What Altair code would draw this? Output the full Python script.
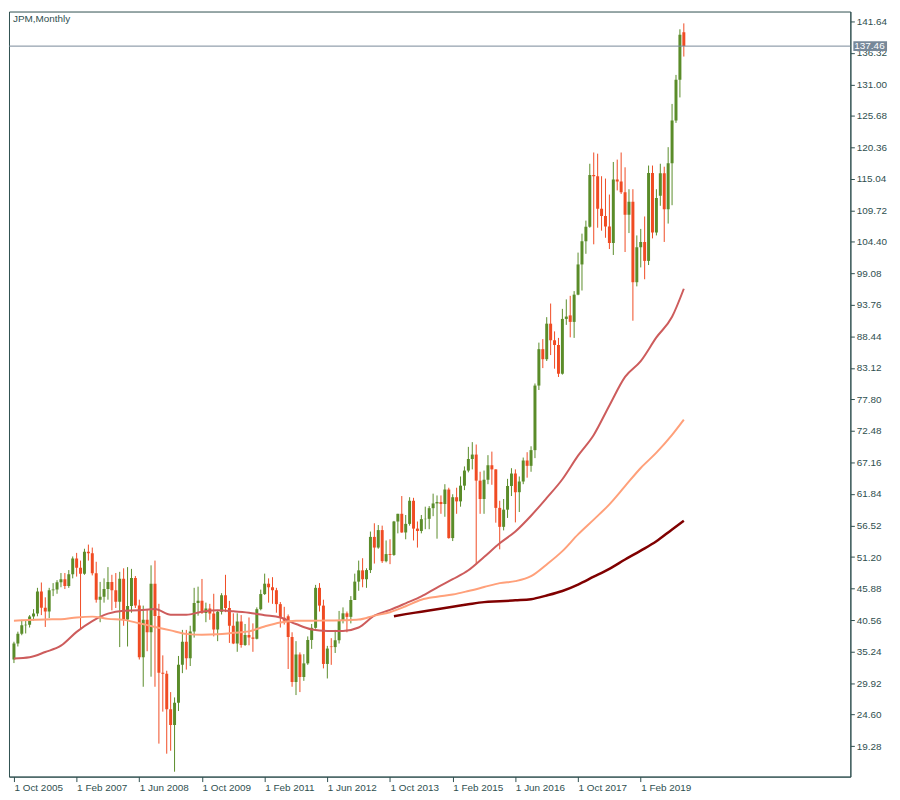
import altair as alt
import pandas as pd

# ---- JPM monthly candles, Oct 2005 .. Jan 2020 (one value per month) ----
opens = [
    33.9, 36.6, 38.25,
    39.7, 39.75, 41.15, 41.65, 45.4, 42.65, 42.0, 45.6, 45.7, 46.95, 47.45, 46.3,
    48.3, 50.95, 49.4, 48.4, 52.1, 51.85, 48.45, 44.0, 44.5, 45.8, 47.0, 45.6,
    43.65, 47.55, 40.65, 42.95, 47.65, 43.0, 34.3, 40.6, 38.5, 46.7, 41.25, 31.65,
    31.5, 25.5, 22.85, 26.6, 33.0, 36.9, 34.1, 38.65, 43.45, 43.8, 41.75, 42.5,
    41.65, 38.95, 41.95, 44.75, 42.6, 39.6, 36.6, 40.3, 36.35, 38.05, 37.6, 37.4,
    42.4, 44.95, 46.7, 46.1, 45.6, 43.25, 40.95, 41.2, 37.7, 30.1, 34.75, 30.95,
    33.25, 37.2, 39.25, 46.0, 43.0, 33.15, 36.1, 36.0, 37.15, 40.5, 41.7, 41.1,
    43.95, 47.05, 48.95, 47.45, 49.0, 54.6, 52.8, 55.75, 50.5, 51.7, 51.55, 57.2,
    58.5, 55.35, 56.8, 60.7, 56.0, 55.6, 57.6, 57.65, 59.45, 60.25, 60.5, 60.15,
    62.6, 54.4, 61.3, 60.6, 63.25, 65.8, 67.75, 68.5, 64.1, 61.0, 64.25, 66.7,
    66.0, 59.5, 56.3, 59.2, 63.2, 65.3, 62.15, 63.95, 67.5, 66.6, 69.25, 80.15,
    86.3, 84.6, 90.6, 87.8, 87.0, 82.15, 91.4, 92.0, 90.9, 95.5, 100.6, 104.5,
    106.95, 115.7, 115.5, 110.0, 108.8, 107.0, 104.2, 114.95, 114.6, 112.8, 109.0, 111.2,
    97.6, 103.5, 104.4, 101.2, 116.05, 106.0, 112.2, 116.0, 109.9, 117.7, 124.9, 131.8,
    139.8,
]
highs = [
    36.9, 38.6, 40.6,
    40.4, 41.4, 42.4, 46.0, 46.9, 44.4, 46.0, 46.8, 47.3, 48.5, 48.5, 49.0,
    51.3, 51.9, 50.6, 52.6, 53.3, 52.8, 50.4, 47.0, 47.6, 49.5, 48.2, 48.5,
    48.7, 49.3, 49.5, 49.2, 48.0, 44.0, 43.0, 42.3, 49.8, 50.6, 43.3, 34.6,
    32.0, 28.4, 27.5, 34.5, 38.9, 38.9, 39.6, 46.0, 46.2, 47.5, 43.5, 43.3,
    45.0, 42.2, 45.1, 48.2, 43.8, 41.7, 41.7, 41.4, 39.9, 41.0, 40.0, 42.7,
    45.7, 48.4, 47.6, 47.8, 46.0, 43.6, 42.8, 41.5, 38.5, 37.0, 35.1, 34.8,
    37.8, 39.9, 46.5, 46.8, 44.0, 36.2, 37.5, 38.9, 42.1, 42.7, 42.0, 44.6,
    48.4, 50.6, 51.0, 49.3, 55.5, 56.9, 56.6, 56.5, 54.0, 54.2, 57.3, 58.5,
    61.5, 58.3, 61.3, 61.2, 57.2, 58.3, 59.7, 59.8, 61.9, 61.6, 61.6, 63.5,
    62.9, 61.8, 62.9, 64.8, 66.5, 69.8, 70.6, 70.2, 65.6, 65.8, 68.4, 69.0,
    66.0, 60.7, 61.0, 64.4, 66.2, 66.0, 64.8, 68.0, 68.9, 69.9, 80.5, 87.4,
    88.0, 91.7, 94.0, 89.3, 88.2, 93.1, 94.7, 95.3, 96.1, 102.6, 105.8, 108.0,
    117.6, 119.5, 119.3, 115.5, 115.1, 112.4, 117.9, 118.3, 119.5, 117.0, 113.3, 113.3,
    105.5, 106.6, 108.7, 117.3, 117.3, 113.3, 117.6, 117.1, 120.4, 127.7, 132.6, 140.3,
    141.3,
]
lows = [
    33.3, 36.1, 38.0,
    38.3, 39.3, 40.5, 41.2, 41.4, 39.4, 40.9, 44.6, 45.0, 46.1, 45.8, 46.0,
    47.6, 47.9, 38.9, 48.2, 50.6, 48.1, 43.5, 40.2, 43.5, 44.0, 42.2, 42.6,
    36.0, 39.6, 36.1, 41.8, 42.6, 33.9, 29.3, 35.3, 31.0, 29.3, 19.7, 25.1,
    18.0, 18.5, 14.96, 25.2, 31.6, 32.2, 32.8, 37.6, 41.3, 41.6, 40.2, 40.6,
    37.8, 37.0, 41.5, 41.9, 36.7, 36.5, 35.2, 35.9, 36.2, 36.3, 35.2, 37.3,
    42.2, 44.8, 43.5, 43.3, 41.8, 39.3, 39.8, 32.3, 29.3, 27.9, 28.4, 30.3,
    33.0, 35.7, 39.1, 42.0, 32.4, 30.7, 33.0, 35.0, 36.6, 40.0, 38.5, 40.0,
    44.0, 45.5, 46.1, 46.0, 48.5, 50.1, 52.6, 50.2, 50.3, 50.0, 51.4, 55.2,
    55.3, 54.2, 56.5, 54.0, 52.8, 55.2, 55.9, 55.9, 58.1, 54.3, 58.5, 58.0,
    54.3, 53.9, 58.5, 59.7, 62.5, 65.5, 66.0, 50.1, 58.5, 58.5, 63.5, 63.4,
    57.0, 52.5, 55.7, 57.8, 61.5, 57.05, 58.8, 63.5, 64.6, 65.6, 67.9, 79.4,
    83.1, 84.3, 85.3, 83.0, 81.6, 82.0, 90.4, 88.3, 88.2, 95.4, 96.2, 102.4,
    106.8, 104.0, 106.8, 106.3, 105.1, 103.2, 102.2, 113.1, 112.5, 102.7, 105.9, 91.1,
    96.9, 100.1, 98.1, 100.5, 105.0, 105.5, 110.5, 104.4, 107.5, 110.6, 124.5, 128.8,
    135.7,
]
closes = [
    36.6, 38.25, 39.7,
    39.75, 41.15, 41.65, 45.4, 42.65, 42.0, 45.6, 45.7, 46.95, 47.45, 46.3, 48.3,
    50.95, 49.4, 48.4, 52.1, 51.85, 48.45, 44.0, 44.5, 45.8, 47.0, 45.6, 43.65,
    47.55, 40.65, 42.95, 47.65, 43.0, 34.3, 40.6, 38.5, 46.7, 41.25, 31.65, 31.5,
    25.5, 22.85, 26.6, 33.0, 36.9, 34.1, 38.65, 43.45, 43.8, 41.75, 42.5, 41.65,
    38.95, 41.95, 44.75, 42.6, 39.6, 36.6, 40.3, 36.35, 38.05, 37.6, 37.4, 42.4,
    44.95, 46.7, 46.1, 45.6, 43.25, 40.95, 40.45, 37.7, 30.1, 34.75, 30.95, 33.25,
    37.2, 39.25, 46.0, 43.0, 33.15, 35.75, 36.0, 37.15, 40.5, 41.7, 41.1, 43.95,
    47.05, 48.95, 47.45, 49.0, 54.6, 52.8, 55.75, 50.5, 51.7, 51.55, 57.2, 58.5,
    55.35, 56.8, 60.7, 56.0, 55.6, 57.6, 57.65, 59.45, 60.25, 60.5, 60.15, 62.6,
    54.4, 61.3, 60.6, 63.25, 65.8, 67.75, 68.5, 64.1, 61.0, 64.25, 66.7, 66.0,
    59.5, 56.3, 59.2, 63.2, 65.3, 62.15, 63.95, 67.5, 66.6, 69.25, 80.15, 86.3,
    84.6, 90.6, 87.8, 87.0, 82.15, 91.4, 91.8, 90.9, 95.5, 100.6, 104.5, 106.95,
    115.7, 115.5, 110.0, 108.8, 107.0, 104.2, 114.95, 114.6, 112.8, 109.0, 111.2, 97.6,
    103.5, 104.4, 101.2, 116.05, 106.0, 111.8, 116.0, 109.9, 117.7, 124.9, 131.8, 139.4,
    137.46,
]

ma_a_idx = [0, 4, 8, 12, 16, 20, 24, 28, 32, 36, 40, 44, 48, 52, 56, 60, 64, 68, 72, 76, 80, 84,
            88, 92, 96, 100, 104, 108, 112, 116, 120, 124, 128, 132, 136, 140, 144, 148, 152,
            156, 160, 164, 168, 171]
ma_fast = [34.08, 34.28, 35.16, 36.24, 38.57, 40.39, 41.64, 42.14, 42.22, 42.42, 41.44, 41.44,
           41.97, 42.22, 42.06, 41.81, 41.39, 40.98, 39.89, 38.98, 38.73, 38.73, 39.31, 41.30,
           42.27, 43.39, 44.55, 46.05, 47.46, 48.96, 51.20, 53.53, 55.52, 58.18, 61.18, 64.34,
           68.32, 71.82, 76.80, 81.62, 84.28, 88.28, 91.77, 96.50]
ma_mid = [40.46, 40.56, 40.66, 40.71, 41.01, 41.14, 40.76, 40.59, 40.01, 39.40, 38.82, 38.23,
          38.07, 38.15, 38.40, 38.65, 39.48, 40.14, 40.44, 40.46, 40.47, 40.53, 40.64, 41.31,
          41.89, 42.89, 44.00, 44.50, 44.88, 45.47, 46.13, 46.80, 47.13, 47.96, 49.95, 52.20,
          55.02, 57.52, 60.10, 63.17, 66.24, 68.82, 71.82, 74.39]
ma_b_idx = [97, 100, 104, 108, 112, 116, 120, 124, 128, 132, 136, 140, 144, 148, 152, 156, 160,
            164, 168, 171]
ma_slow = [41.22, 41.56, 41.97, 42.39, 42.80, 43.22, 43.59, 43.72, 43.89, 44.08, 44.71, 45.47,
           46.55, 47.88, 49.21, 50.78, 52.28, 53.86, 55.86, 57.31]

# ---- axis ticks ----
x_tick_pos = [0, 16, 32, 48, 64, 80, 96, 112, 128, 144, 160]
x_tick_labels = ["1 Oct 2005", "1 Feb 2007", "1 Jun 2008", "1 Oct 2009", "1 Feb 2011",
                 "1 Jun 2012", "1 Oct 2013", "1 Feb 2015", "1 Jun 2016", "1 Oct 2017",
                 "1 Feb 2019"]
y_ticks = [19.28, 24.60, 29.92, 35.24, 40.56, 45.88, 51.20, 56.52, 61.84, 67.16, 72.48, 77.80,
           83.12, 88.44, 93.76, 99.08, 104.40, 109.72, 115.04, 120.36, 125.68, 131.00, 136.32,
           141.64]
title_text = "JPM,Monthly"

GREEN = "#5A8C29"
RED = "#F04B23"
FRAME = "#2F4F4F"
FONT = "Liberation Sans"
W, H = 849, 772

n = len(closes)
df = pd.DataFrame({"i": list(range(n)), "o": opens, "h": highs, "l": lows, "c": closes})
df["dir"] = ["up" if c >= o else "down" for o, c in zip(opens, closes)]

xs = alt.Scale(domain=[0, 212.25], nice=False, zero=False)
ys = alt.Scale(domain=[14.13, 143.3], nice=False, zero=False)
col = alt.Color("dir:N", scale=alt.Scale(domain=["up", "down"], range=[GREEN, RED]), legend=None)

lbl_js = "[" + ",".join("'%s'" % s for s in x_tick_labels) + "]"

x_axis = alt.Axis(values=x_tick_pos, labelExpr=lbl_js + "[round(datum.value/16)]", title="",
                  grid=False, tickSize=5, labelAlign="left", labelFlush=False, labelPadding=1,
                  labelFont=FONT, labelFontSize=10, labelColor=FRAME, domainColor=FRAME,
                  tickColor=FRAME, labelOverlap=False)
y_axis = alt.Axis(values=y_ticks, format=".2f", orient="right", title="", grid=False,
                  tickSize=4, labelPadding=2, labelFont=FONT, labelFontSize=10,
                  labelColor=FRAME, domainColor=FRAME, tickColor=FRAME, labelOverlap=False)


def X(field):
    return alt.X(field, scale=xs, axis=x_axis)


def Y(field):
    return alt.Y(field, scale=ys, axis=y_axis)


base = alt.Chart(df)
wicks = base.mark_rule(strokeWidth=1, clip=True).encode(
    x=X("i:Q"), y=Y("l:Q"), y2="h:Q", color=col)
bodies = base.mark_bar(size=3, clip=True).encode(
    x=X("i:Q"), y=Y("o:Q"), y2="c:Q", color=col)


def ma_line(idx, vals, color, width):
    d = pd.DataFrame({"i": idx, "v": vals})
    return alt.Chart(d).mark_line(color=color, strokeWidth=width, interpolate="monotone",
                                  clip=True).encode(x=X("i:Q"), y=Y("v:Q"))


l_fast = ma_line(ma_a_idx, ma_fast, "#CD5C5C", 2)
l_mid = ma_line(ma_a_idx, ma_mid, "#FFA07A", 2)
l_slow = ma_line(ma_b_idx, ma_slow, "#800000", 2.5)

last = pd.DataFrame({"p": [closes[-1]]})
pline = alt.Chart(last).mark_rule(color="#778899", strokeWidth=1).encode(y=Y("p:Q"))
pbox = alt.Chart(last).mark_rule(color="#778899", strokeWidth=10, strokeCap="butt").encode(
    y=Y("p:Q"), x=alt.value(W + 3), x2=alt.value(W + 37))
ptext = alt.Chart(last).mark_text(align="left", baseline="middle", color="white", font=FONT,
                                  fontSize=10).encode(
    y=Y("p:Q"), x=alt.value(W + 4), text=alt.Text("p:Q", format=".2f"))

title = alt.Chart(pd.DataFrame({"t": [title_text]})).mark_text(
    align="left", baseline="middle", color=FRAME, font=FONT, fontSize=10).encode(
    x=alt.value(4), y=alt.value(8), text="t:N")

chart = alt.layer(wicks, bodies, l_fast, l_mid, l_slow, pline, pbox, ptext, title).properties(
    width=W, height=H, padding=0, background="white"
).configure_view(stroke=FRAME, strokeWidth=1)

chart.save("out.html", embed_options={"renderer": "svg", "actions": False})
